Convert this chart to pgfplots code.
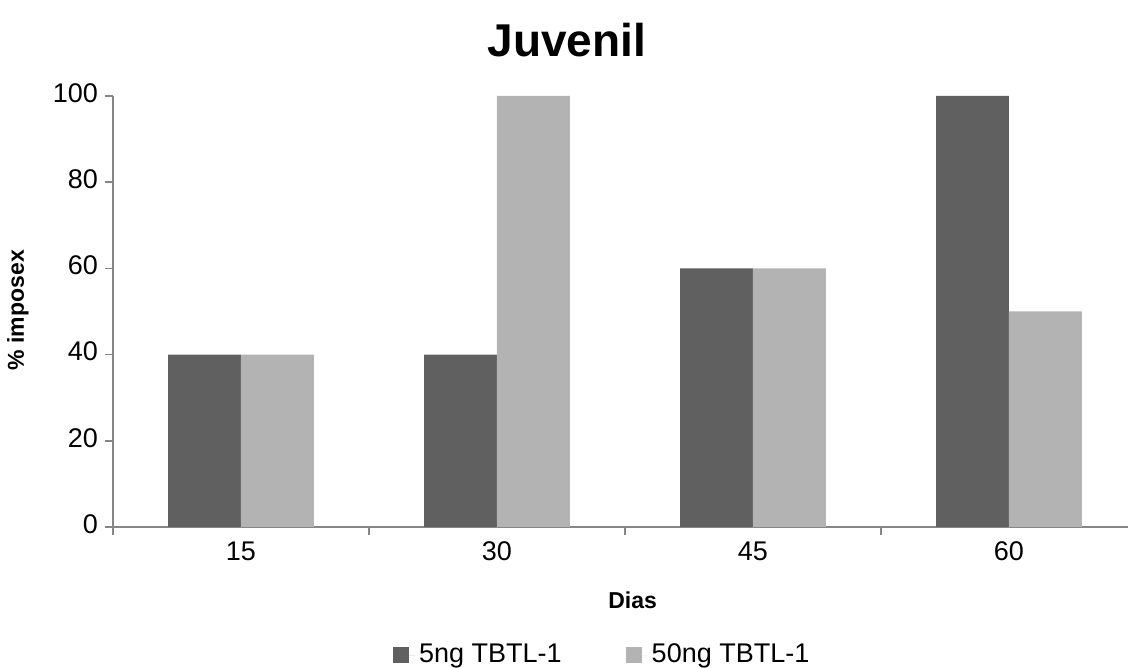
\documentclass[border=0pt]{standalone}
\usepackage{pgfplots}
\pgfplotsset{compat=1.18}
\usepackage{fontspec}
\setmainfont{Liberation Sans}
\definecolor{darkbar}{HTML}{606060}
\definecolor{lightbar}{HTML}{B3B3B3}
\definecolor{axgray}{HTML}{868686}
\begin{document}
\begin{tikzpicture}
\useasboundingbox (-56.5pt,-70.5pt) rectangle (507.5pt,263.5pt);
\begin{axis}[
  scale only axis,
  width=507.5pt, height=215.5pt,
  ybar=0pt, bar width=0.285,
  xmin=-0.5, xmax=3.465,
  ymin=0, ymax=100,
  ytick={0,20,40,60,80,100},
  xtick={-0.5,0.5,1.5,2.5},
  xticklabels={},
  extra x ticks={0,1,2,3},
  extra x tick labels={15,30,45,60},
  extra x tick style={major tick length=0pt},
  axis lines*=left,
  axis line style={draw=axgray, line width=0.8pt},
  tick style={draw=axgray, line width=0.8pt},
  tick align=outside,
  major tick length=4pt,
  /pgf/number format/assume math mode=true,
  typeset ticklabels with strut,
  tick label style={font=\fontsize{13.5}{16}\selectfont},
  xticklabel style={yshift=-2pt},
  yticklabel style={xshift=0pt},
  title={Juvenil},
  title style={font=\fontsize{23}{27}\selectfont\bfseries, at={(axis description cs:0.447,1)}, anchor=center, yshift=22pt},
  xlabel={Dias},
  xlabel style={font=\fontsize{11.5}{13}\selectfont\bfseries, at={(axis description cs:0.512,0)}, anchor=center, yshift=-36.5pt},
  ylabel={\% imposex},
  ylabel style={font=\fontsize{11.5}{13}\selectfont\bfseries, at={(axis description cs:-0.0936,0.503)}, anchor=center},
  legend columns=2,
  legend style={draw=none, fill=none, at={(axis description cs:0.483,-0.297)}, anchor=center, font=\fontsize{13.5}{16}\selectfont, /tikz/every even column/.append style={column sep=30pt}},
  legend image code/.code={\path (0pt,0pt) -- (11pt,0pt); \fill[#1] (0pt,-4pt) rectangle (8pt,4pt);},
  clip=false,
]
\addplot[fill=darkbar, draw=none] coordinates {(0,40) (1,40) (2,60) (3,100)};
\addplot[fill=lightbar, draw=none] coordinates {(0,40) (1,100) (2,60) (3,50)};
\legend{5ng TBTL-1, 50ng TBTL-1}
\end{axis}
\end{tikzpicture}
\end{document}
